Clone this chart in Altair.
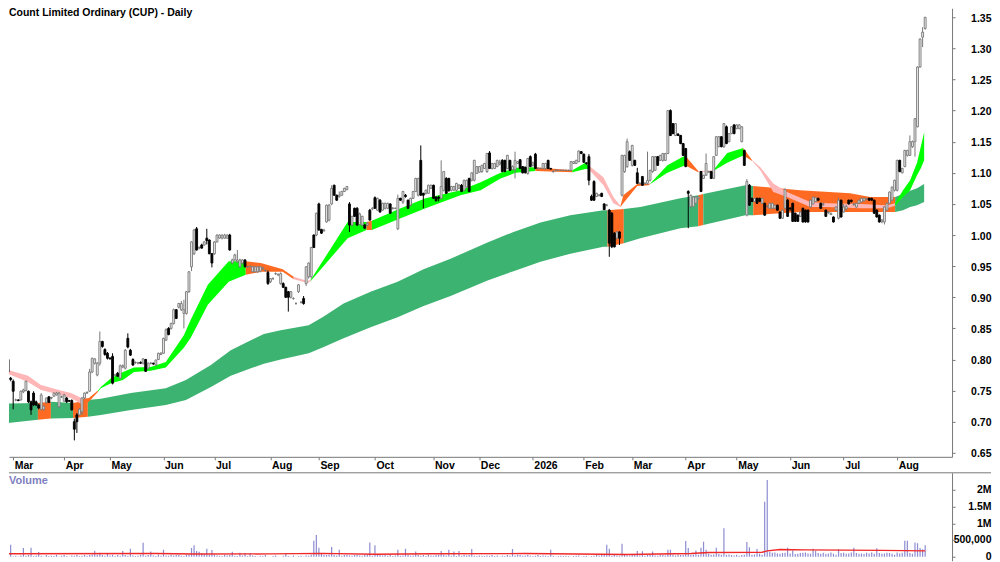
import altair as alt
import pandas as pd

# candles, one small list per month: (open, high, low, close) in cents
feb_25 = [(75.9,76.5,74.5,74.5),(76.7,80,76,79.9),(80,80.2,77.5,78),(77,77.2,76.5,76.8)]
mar_25 = [(76.5,76.8,72,74.9),(73.5,73.7,73.3,73.5),(73.5,73.6,73.3,73.4),(73.5,75,73.4,74.9),(74.8,75.3,74.6,75.1),
    (75,76.6,74.9,76.5),(74.9,75,73,73.2),(73.2,73.4,71.1,71.9),(74.6,74.9,72.5,72.7),(73.2,73.4,72.5,72.7),
    (72.7,72.9,72,72.2),(72,74.6,71.8,74.3),(72,72.6,71.8,72.5),(73.1,73.9,72.9,73.8),(74,74.1,73,73.1),
    (73.8,74,73.6,73.9),(74.1,74.7,74,74.6),(74.3,74.8,74.2,74.6),(72.4,74.8,72.2,74.6),(74,74.2,73.8,74)]
apr_25 = [(73.3,74.5,73.2,74.3),(73.8,74,73,73.2),(73.4,73.5,73.2,73.3),(73.4,73.6,71.8,71.9),(70,70.5,67,68.8),
    (71.1,71.4,68.2,70),(71.1,72.2,71,72),(71.6,74,71.1,73.8),(73.8,74.7,73.6,74.6),(74.6,74.9,74.5,74.7),
    (74.9,78.5,74.8,78),(78,80.3,77.8,80.2),(79.4,80.2,79.2,80.1),(77.5,79.6,77.3,79.4),(79.4,84.5,79,82.9),
    (82.9,83,81.9,82.1),(81.6,81.8,80.6,80.8),(81,81.2,80,80.2)]
may_25 = [(80.2,80.4,80,80.1),(80.5,81,76,76.2),(77.5,77.7,77.3,77.5),(77.8,78,77.2,77.3),(77,79.2,76.8,79),
    (78.8,79.2,78.6,79),(78.6,81.7,78.4,81.5),(83.4,84.2,81.8,82),(81.5,81.7,80.6,80.7),(80,80.2,79,79.1),
    (79.5,79.7,79.3,79.5),(79.4,79.6,79.2,79.5),(79.5,79.7,79.3,79.4),(79.4,80.2,79.2,80.1),(80,80.1,78,78.1),
    (78.6,79.5,78.4,79.4),(79.4,79.6,79.2,79.4),(79.4,79.5,79.1,79.3),(79.1,80,79,79.9),(80,81.1,79.9,81),(80.8,81.2,80.7,81)]
jun_25 = [(81,83.5,80.9,83.4),(83.1,85,83,84.8),(85,85.2,83.9,84),(85,85.9,84.8,85.8),(85.8,88.2,85.6,88),
    (88,88.1,86.5,86.6),(88.4,89.1,88.2,89),(88,89.4,87.8,89),(87.4,89.6,85,88),(87.4,91,87.2,90.9),
    (90.9,94.2,90.7,94.1),(94.9,99,94.2,98.9),(97,101,96.8,100.8),(101,101.3,97.5,97.6),(97.9,98.2,97.7,98),
    (98.4,98.6,97.8,97.9),(98.4,99,98.3,98.9),(99.5,101,98.5,99.1),(99.2,99.3,96.9,97),(97,97.1,94.8,95.5)]
jul_25 = [(97,99,96.8,98.9),(98.9,100.1,98.8,100),(99.5,100.1,99.4,100),(99.5,100.1,99.3,100),(99.5,100.2,99.4,100),
    (99.5,100.1,99.4,100),(100,100.2,97.5,97.6),(95.5,96.2,95.3,96),(96,97,95.8,96.8),(95.7,97.6,95.5,96),
    (94.9,96.2,94.7,96),(95.5,96.1,95.3,96),(96,96.1,94.8,94.9),(94.9,95,94.7,94.9),(94.9,95.1,94.8,95),
    (94.1,95,94,94.9),(94.1,95,94,94.9),(94.1,95,93.9,94.9),(94.2,95,94,94.9),(94.6,94.9,94.4,94.7),
    (94.3,94.5,94.1,94.3),(94,94.3,92,92.2)]
aug_25 = [(92.5,93.1,92.3,93),(93,93.2,92.8,93),(93.8,94,93.6,93.8),(93.6,93.8,93.4,93.7),(92.2,94,92,93.8),
    (92.2,92.4,91.5,91.6),(91.6,91.7,89.9,90),(90.9,91,87.7,90),(90,91,89.8,90.9),(89.8,90,89.6,89.8),
    (89,89.2,88.8,89),(90.9,92.1,90.7,92),(89.2,89.4,89,89.2),(89.8,90.2,88.8,89),(92.2,95,91.8,94.9),
    (93.3,95.6,93,95.5),(93.3,98.1,93,98),(100,100.1,97.9,98),(100,103.6,99.8,103.5)]
sep_25 = [(105,105.2,100.7,100.8),(100.9,101,100.2,100.3),(100.7,101,100.5,100.8),(102.1,104.9,102,104.8),(102.4,105,102.2,104.8),
    (105,108,104.8,107.5),(108,108.1,106.3,106.4),(106.4,106.5,105.5,105.6),(106.2,107,106,106.4),(106.4,107.1,106.3,107),
    (107,107.6,106.9,107.5),(107.3,107.9,107.2,107.8),(105,105.3,100.5,101.6),(101.6,103.1,101.4,103),(104.3,104.4,102.9,103),
    (104.3,104.5,101.5,101.6),(101.7,103.6,101.5,103.4),(101.6,103.1,101.4,103),(101.6,101.8,101,101.1),(101.6,102.1,101.4,101.9),
    (104,104.2,102.3,102.4),(104.2,104.5,104,104.3)]
oct_25 = [(106,106.2,104.2,104.3),(104,106,103.9,105.9),(105.6,105.8,103.6,103.7),(104,105.2,103.9,105.1),(104.3,105.2,104.1,105.1),
    (104.3,105.2,104.2,105.1),(105,105.1,103.4,103.5),(104.3,104.5,104.1,104.3),(104.3,104.4,104.2,104.3),(101,106.5,100.8,105.9),
    (105.9,106,105.5,105.6),(105.3,107.1,105,107),(106.4,106.6,106,106.2),(105.6,105.7,104.2,104.3),(104.8,106,104.6,105.9),
    (105.9,107.1,105.8,107),(107,109.2,106.9,109.1),(106.4,109.2,106.2,109.1),(112,114.4,106.3,106.4),(106.7,106.8,104.3,106.4),
    (106.7,107.3,106.5,107.2),(106.7,108.1,106.6,108),(107.5,108.1,107.4,108)]
nov_25 = [(108,108.1,105.8,105.9),(106.1,106.2,105.4,105.5),(106.1,106.3,105.4,105.9),(105.9,112,105.7,107.8),(107.2,110.3,107,110.2),
    (109.1,109.3,106.6,106.7),(109.1,109.2,107,107.1),(107.2,107.9,107,107.8),(107.2,107.9,107.1,107.8),(107.2,108.4,107,108.3),
    (107.5,108.2,107.4,108),(108,108.2,106.9,107),(107.2,108.9,107,108.8),(107.7,108.9,107.6,108.8),(109.1,109.2,106.9,107),
    (108.8,110.1,108.6,110),(108.8,112.1,108.6,112),(109.9,111.1,109.8,111)]
dec_25 = [(110.1,111.1,110,111),(110.2,111.3,110,111.2),(110.7,111.6,110.6,111.5),(110.2,113.2,110,113.1),(113.2,113.5,110.6,110.7),
    (110.7,111.6,110.5,111.5),(110.7,111.6,110.6,111.5),(111,112.1,110.9,112),(111.4,112.1,111.2,111.7),(112,112.2,110.1,110.2),
    (112,112.1,110.1,110.2),(110.7,112.9,110.6,112.8),(112,112.1,110.3,110.4),(110.5,111.2,110.4,111),(110.5,113.4,109.1,112),
    (111.5,111.9,111.4,111.8),(112.1,112.2,110.6,110.7),(111,111.1,109.9,110),(110.9,111,109.9,110),(109.9,112.4,109.7,112.3),(112.6,112.8,110.9,111)]
jan_26 = [(111.2,111.8,111,111.6),(113,113.2,110.6,110.7),(110.7,110.9,110.5,110.7),(110.7,110.8,110.6,110.7),(110.7,111.6,110.6,111.5),
    (110.7,111.6,110.5,111.5),(112,112.1,110.6,110.7),(110.7,110.8,110.5,110.6),(110.2,110.4,110,110.2),(110.4,110.6,110.2,110.4),
    (110.4,110.5,110.3,110.4),(110.4,110.5,110.3,110.4),(110.4,110.5,110.3,110.4),(110.4,110.5,110.3,110.4),(110.4,110.5,110.3,110.4),
    (110.4,111.9,110.3,111.8),(111.5,111.9,111.4,111.8),(111.5,112.1,111.4,112),(111.8,113.6,111.7,113.5),(113.4,113.5,113,113.1)]
feb_26 = [(113,113.1,111.6,111.7),(111.6,111.7,111.3,111.5),(112.6,113,108,108.8),(106.2,106.5,105.5,105.6),(108.6,108.8,105.5,105.6),
    (106.2,106.8,106.1,106.7),(106.4,106.6,106.2,106.4),(106.7,106.8,106.1,106.2),(105,105.1,104,104.1),(104.8,105,104.6,104.8),
    (104,104.2,96.5,98.7),(103.5,103.7,97.9,98.1),(100.3,100.5,98,98.1),(99.5,100.6,99.3,100.5),(100.5,100.6,98.4,99.5),
    (106.4,112.9,106.2,112.8),(110.2,112.9,110,112.8),(111,115.5,110.8,115),(113.4,113.6,111.9,112)]
mar_26 = [(111.2,114.5,111,114.4),(112,112.1,111.1,111.2),(110,110.8,108.2,108.3),(108.3,108.5,108.1,108.3),(109.4,109.5,107.9,108),
    (108.3,108.5,108.1,108.3),(108.3,113.4,108.1,108.8),(108.8,110.5,108.6,110.4),(110.2,112.7,110,112.6),(110.4,112.7,110.3,112.6),
    (112.6,112.7,111.1,111.2),(112,112.9,111.9,112.8),(112,113.2,111.8,113.1),(112,113.2,111.9,113.1),(113.1,120.1,113,120),
    (120,120.2,115.9,116),(117.9,118,116.2,116.3),(116,118,115.9,117.9),(116.2,116.4,115.9,116),(116,116.1,114.6,114.7),(114.7,114.8,112.7,112.8)]
apr_26 = [(113.9,114,110.9,111),(107,107.2,101.1,106.7),(104.6,106.5,104.4,106.4),(104.6,106.2,104.5,106.1),(105.1,106.2,105,106.1),
    (105.9,106.2,105.7,106.1),(110.2,110.3,106.9,107),(109.1,109.7,109,109.6),(109.6,113.1,109.5,111.5),(110.1,110.3,110,110.2),
    (110.2,110.3,109,109.1),(109.1,112.7,109,112.6),(112.8,115.9,112.7,115.8),(114.2,115.9,114.1,115.8),(115.8,115.9,114.1,114.2),
    (114.2,118,114,117.9),(117.4,117.6,114.6,114.7),(115,116.4,114.9,116.3),(116.3,117.5,116.2,117.4),(117.7,117.8,116.2,116.3)]
may_26 = [(117.1,117.8,117,117.7),(117.1,117.8,117,117.7),(115,117.5,114.9,117.4),(113.6,113.7,111.1,111.2),(103.2,109,103,108.6),
    (108,108.2,104.7,104.8),(105.9,106,105.3,105.4),(105.4,106,105.3,105.9),(105.9,106,105,105.1),(105.9,106,105.3,105.4),
    (105.1,106,105,105.9),(105.1,105.2,103.1,103.2),(104.6,104.8,104.4,104.6),(104.3,105.2,104.2,105.1),(104.3,105.2,104.2,105.1),
    (104.3,104.9,104.2,104.8),(104.8,104.9,103.9,104),(103.7,103.8,102.6,102.7),(102.7,104.1,102.6,104),(104.3,107.5,104.1,107.3),(105.6,105.8,102.9,103)]
jun_26 = [(104.3,104.5,103.9,104.2),(105.1,105.2,102.1,102.2),(103.5,103.6,102.1,102.2),(103.2,103.3,102.1,102.2),(103,103.8,102.9,103.7),
    (104.3,104.4,102,102.1),(104,104.1,102,102.1),(104,104.1,102,102.1),(104.5,105.7,104.4,105.6),(105,106.2,104.9,106.1),
    (105.4,106.1,105.3,106),(105.9,106,105.5,105.6),(105.1,105.2,104.2,104.3),(104.9,105.2,104.7,105),(104,104.1,102.9,103),
    (103.6,103.9,103.4,103.7),(103.3,103.6,103.2,103.5),(102.9,103,102,102.1),(104,104.6,103.9,104.5),(102.7,106,102.5,105.6),(105.6,105.7,102.8,102.9)]
jul_26 = [(103.7,105,103.6,104.5),(104.2,104.9,104,104.6),(105.6,105.7,104.9,105),(105.6,105.7,105.2,105.4),(104.9,105.1,104.7,105),
    (104.5,105.2,104.4,105.1),(105.1,105.7,105,105.6),(105.3,106,105.2,105.9),(105.5,106,105.4,105.9),(105.8,106,105.6,105.8),
    (105.9,106,105.5,105.6),(105.9,106,105.5,105.6),(105.6,105.7,103.4,103.5),(104,104.1,102.8,102.9),(103.2,103.3,102,102.1),
    (102.1,102.6,101.9,102.4),(102.1,104.6,101.7,104.5),(104,105.2,103.9,105.1),(105.1,107,105,106.9),(105.6,107.8,105.5,107.7),(107.2,108.9,107,108.8)]
aug_26 = [(107.2,112.1,107,112),(112,112.1,110.1,110.2),(110,110.8,109.9,110.7),(111,113.7,110.9,113.6),(112.8,113.7,112.6,113.6),
    (112.8,116,112.7,115),(114.2,115.2,114,115),(115,118.8,112.6,118.7),(117.4,127.1,117.3,127),(127,131.6,126.9,131.5),
    (131.8,133.4,130.2,132.6),(133.2,135,133,135)]

# daily volume in thousands, 20 bars a row
volumes = [40,30,20,357,15,30,10,40,260,30,50,270,20,40,145,30,10,50,20,30,
    20,60,10,30,50,20,10,40,30,60,20,30,50,30,50,70,180,60,120,50,
    30,90,40,60,20,50,30,175,50,30,240,40,20,30,60,415,30,50,155,40,
    20,70,30,210,40,30,60,40,50,60,30,20,70,60,260,340,170,150,110,90,
    240,60,200,70,40,30,20,60,40,50,150,30,20,120,40,110,20,110,40,20,
    10,30,20,50,10,0,20,40,10,0,30,110,20,10,40,0,20,30,10,40,
    30,60,480,650,270,90,60,50,70,290,60,40,210,30,50,60,40,30,50,60,
    40,30,50,60,425,30,340,50,60,40,50,30,60,20,40,210,30,40,240,50,
    30,40,155,60,30,50,20,70,40,30,50,60,175,60,40,210,30,155,20,175,
    30,60,40,50,230,30,20,40,30,20,40,30,50,20,40,10,30,20,50,30,
    230,40,60,50,30,40,60,30,20,30,50,20,40,30,20,210,30,10,20,30,
    20,30,20,10,20,30,40,10,20,30,10,20,30,50,40,60,80,357,240,30,
    60,40,30,385,50,40,30,60,50,175,40,165,30,60,50,155,40,30,60,50,
    40,210,210,60,40,70,50,60,470,260,60,70,190,60,270,450,205,90,60,70,
    270,80,60,850,60,70,50,40,60,30,50,60,440,280,60,70,230,90,60,1640,
    2290,150,120,130,100,90,110,120,270,100,190,80,90,110,120,130,100,90,240,170,
    110,90,120,80,100,130,90,60,220,110,120,90,100,130,270,110,90,100,80,120,
    100,130,90,250,110,90,100,120,110,90,60,130,100,120,480,480,110,90,425,405,
    260,220,340]

# volume average line, read as (bar, thousands)
avg_bar = [0,60,75,105,125,146,168,205,245,270,277,298,300,305,315,345,362]
avg_vol = [90,95,80,85,100,75,90,95,65,95,125,135,175,215,205,190,175]

# long term band
long_x = [0,13.7,13.7,18.8,18.8,27.5,27.5,33.3,33.3,38.4,50.2,63.9,71.8,81.6,89.4,97.3,102.4,109,120,125.9,133.7,144.3,154.9,165.1,175.7,190.2,200.4,211,222.7,235.7,237.3,
    237.3,243.7,243.7,250.2,265.9,272.9,272.9,274.9,274.9,291.4,294.5,294.5,312.9,332.5,340.4,350.2,350.2,353.3,356.1,358.8,361.6]
long_top = [72.9,73,73,73.2,73.2,73,73,73.5,73.5,73.7,74.6,75.4,76.7,79.1,81.5,83.1,84.1,84.7,85.5,86.9,89,90.9,92.5,94.5,96.2,98.8,100.5,102,103.2,104,104,
    104,104.2,104.2,104.5,105.9,106.4,106.4,106.6,106.6,108,107.9,107.9,107.2,106.7,106.1,106.1,106.1,106.6,107.1,107.5,108.2]
long_bot = [69.7,70.3,70.3,70.5,70.5,70.6,70.6,70.8,70.8,71.1,71.9,72.7,73.5,75.6,77.4,78.6,79.3,80,81,82,83.4,85.2,86.8,88.6,90.2,92.7,94.2,95.7,97,98.1,98.1,
    98.1,98.7,98.7,99.5,101.1,101.4,101.4,101.6,101.6,103.2,103.2,103.2,103.7,103.7,103.7,103.7,103.7,104,104.5,104.8,105.3]
long_zones = [("green",2),("orange",2),("green",2),("orange",2),("green",23),("orange",2),("green",4),("orange",2),("green",3),("orange",5),("green",5)]

# short term band
short_x = [0,3.1,9.8,14.9,22.7,26.7,31.4, 31.4,33.7,37.3, 37.3,38.4,42.4,47.1,51.4,58,63.9,71,73.7,80.4,88.6,95.3, 95.3,101.2,109.8,114.1,
    114.1,119.6,120.8, 120.8,135.3,142.7, 142.7,144.8, 144.8,156.1,165.9,179.6,187.5,195.3,201.2,209, 209,223.5, 223.5,228.6,229.8,
    229.8,235.7,239.6,242.4, 242.4,243.5,249,253.3,254.1, 254.1,260.8,267.8, 267.8,272.9, 272.9,278.8, 278.8,284.3,290.6, 290.6,294.1,
    294.1,297.3,302.4,307.8,316.9,323.5,336.5,347,350.2, 350.2,353.3,356.1,358.8,360.4,361.6]
short_top = [78.5,78.2,77.4,75.9,75,74.6,73.7, 73.7,73.8,75, 75,75.6,77,78,78.7,78.8,79.6,83.9,86.4,92,95.8,95.8, 95.8,95.5,94.5,93.3,
    93.3,92.6,92.8, 92.8,102.1,102.1, 102.1,102.3, 102.3,104.3,105.9,107.2,108.5,110,110.8,110.9, 110.9,110.4, 110.4,111.6,111.2,
    111.2,109.3,106.1,104.7, 104.7,106.4,108.2,108.2,108.3, 108.3,111.2,112.8, 112.8,110.3, 110.3,110.4, 110.4,113.2,114, 114,112,
    112,110.9,108.3,106.9,105.3,105.1,105,104.8,105.1, 105.1,107.2,108.8,111.6,114.4,116.5]
short_bot = [78,77.5,76.4,75.1,74.3,73.8,72.7, 72.7,73.2,74.8, 74.8,75.4,76.2,76.7,78,78.2,78.7,81.9,83.5,88.8,92.5,93.6, 93.6,94.1,94.1,92.9,
    92.9,92.3,92.6, 92.6,99.5,100.8, 100.8,100.8, 100.8,102.7,104.3,106.4,107.2,109.1,110,110.3, 110.3,110.1, 110.1,110.6,110.6,
    110.6,108,105.1,104.5, 104.5,105.1,107.9,108,108.2, 108.2,110,111.2, 111.2,110.1, 110.1,110.3, 110.3,111.6,112.8, 112.8,111.9,
    111.9,110.4,106.9,106.1,104.5,104.5,104.3,104.3,104.7, 104.7,106.1,107.2,109.6,110.8,112]
short_zones = [("pink",7),("orange",3),("lime",12),("orange",4),("pink",3),("lime",3),("orange",2),("lime",8),("orange",2),("lime",3),
    ("pink",4),("orange",5),("lime",3),("orange",2),("pink",2),("lime",3),("orange",2),("pink",9),("lime",6)]

month_bars = [4,24,42,63,83,105,124,146,169,187,208,228,247,268,288,309,330,351]
month_labels = ["Mar","Apr","May","Jun","Jul","Aug","Sep","Oct","Nov","Dec","2026","Feb","Mar","Apr","May","Jun","Jul","Aug"]
price_ticks = [0.65,0.70,0.75,0.80,0.85,0.90,0.95,1.00,1.05,1.10,1.15,1.20,1.25,1.30,1.35]
volume_ticks = [0,500,1000,1500,2000]

FONT = "Liberation Sans"
GREY = "#787878"

months = [feb_25,mar_25,apr_25,may_25,jun_25,jul_25,aug_25,sep_25,oct_25,nov_25,dec_25,jan_26,feb_26,mar_26,apr_26,may_26,jun_26,jul_26,aug_26]
rows = [b for m in months for b in m]
candles = pd.DataFrame(rows, columns=["o", "h", "l", "c"]) / 100
candles["bar"] = range(len(candles))
up = candles[candles.c >= candles.o]
down = candles[candles.c < candles.o]


def band_frame(xs, tops, bots, zones):
    out = []
    pos = 0
    for seg, (zone, n) in enumerate(zones):
        for k in range(pos, pos + n):
            out.append({"bar": xs[k], "top": tops[k] / 100, "bot": bots[k] / 100, "zone": zone, "seg": seg})
        pos += n
    return pd.DataFrame(out)


long_band = band_frame(long_x, long_top, long_bot, long_zones)
short_band = band_frame(short_x, short_top, short_bot, short_zones)

x_scale = alt.Scale(domain=[2.35, 372.55], nice=False, zero=False, padding=0)
y_scale = alt.Scale(domain=[0.6436, 1.3644], nice=False, zero=False, padding=0)
zone_scale = alt.Scale(domain=["green", "orange", "lime", "pink"], range=["#3CB371", "#FF6A22", "#00FF00", "#FFB6B6"])

label_expr = "[" + ",".join("'%s'" % m for m in month_labels) + "][indexof([" + ",".join(str(b) for b in month_bars) + "], datum.value)]"
x_axis = alt.Axis(values=month_bars, labelExpr=label_expr, title=None, grid=False, domainColor=GREY, tickColor=GREY, tickSize=3,
                  labelFont=FONT, labelFontSize=10.5, labelFontWeight="bold", labelColor="black", labelAlign="left", labelBaseline="top",
                  labelOffset=1, labelPadding=1, labelOverlap=False, labelFlush=False)
price_axis = alt.Axis(orient="right", values=price_ticks, format=".2f", title=None, grid=False, domainColor=GREY, tickColor=GREY, tickSize=3,
                      labelFont=FONT, labelFontSize=10.5, labelFontWeight="bold", labelColor="black", labelAlign="right",
                      labelPadding=36, labelOffset=1, labelOverlap=False, labelBound=False)

X = alt.X("bar:Q", scale=x_scale, axis=x_axis)


def area_layer(df):
    return alt.Chart(df).mark_area(clip=True).encode(
        X,
        alt.Y("top:Q", scale=y_scale, axis=price_axis),
        alt.Y2("bot:Q"),
        color=alt.Color("zone:N", scale=zone_scale, legend=None),
        detail="seg:N",
    )


def wick_layer(df, colour):
    return alt.Chart(df).mark_rule(clip=True, color=colour, strokeWidth=1).encode(X, alt.Y("h:Q", scale=y_scale, axis=price_axis), alt.Y2("l:Q"))


def body_layer(df, fill, stroke):
    return alt.Chart(df).mark_bar(clip=True, size=1.9, orient="vertical", fill=fill, stroke=stroke, strokeWidth=0.9).encode(
        X, alt.Y("o:Q", scale=y_scale, axis=price_axis), alt.Y2("c:Q"))


title = alt.Chart(pd.DataFrame({"t": ["Count Limited Ordinary (CUP) - Daily"]})).mark_text(
    font=FONT, fontSize=10.5, fontWeight="bold", align="left", baseline="top", color="black").encode(
    x=alt.value(0), y=alt.value(0), text="t:N")

price = alt.layer(
    area_layer(long_band), area_layer(short_band),
    wick_layer(up, GREY), body_layer(up, "#ececec", GREY),
    wick_layer(down, "black"), body_layer(down, "black", "black"),
    title,
).properties(width=944, height=449)

vol_df = pd.DataFrame({"bar": range(len(volumes)), "v": volumes})
avg_df = pd.DataFrame({"bar": avg_bar, "v": avg_vol})
vol_scale = alt.Scale(domain=[-119, 2507], nice=False, zero=False, padding=0)
vol_axis = alt.Axis(orient="right", values=volume_ticks, title=None, grid=False, domainColor=GREY, tickColor=GREY, tickSize=3,
                    labelExpr="datum.value == 0 ? '0' : datum.value == 500 ? '500,000' : (datum.value / 1000) + 'M'",
                    labelFont=FONT, labelFontSize=10.5, labelFontWeight="bold", labelColor="black", labelAlign="right",
                    labelPadding=36, labelOverlap=False, labelBound=False)
Xv = alt.X("bar:Q", scale=x_scale, axis=None)

vol_bars = alt.Chart(vol_df).mark_bar(clip=True, size=1.2, orient="vertical", color="#8C8CD2").encode(Xv, alt.Y("v:Q", scale=vol_scale, axis=vol_axis))
vol_line = alt.Chart(avg_df).mark_line(clip=True, color="#F02828", strokeWidth=1.4).encode(Xv, alt.Y("v:Q", scale=vol_scale, axis=vol_axis))
vol_title = alt.Chart(pd.DataFrame({"t": ["Volume"]})).mark_text(
    font=FONT, fontSize=11, fontWeight="bold", align="left", baseline="middle", color="#8080C0").encode(
    x=alt.value(0), y=alt.value(8), text="t:N")
top_line = alt.Chart(pd.DataFrame({"t": [0]})).mark_rule(color=GREY, strokeWidth=1).encode(x=alt.value(0), x2=alt.value(983), y=alt.value(0))

volume = alt.layer(vol_bars, vol_line, vol_title, top_line).properties(width=944, height=88)

chart = alt.vconcat(price, volume, spacing=0).properties(padding=0).configure_view(stroke=None)
chart.save("out.html", embed_options={"renderer": "svg", "actions": False})
